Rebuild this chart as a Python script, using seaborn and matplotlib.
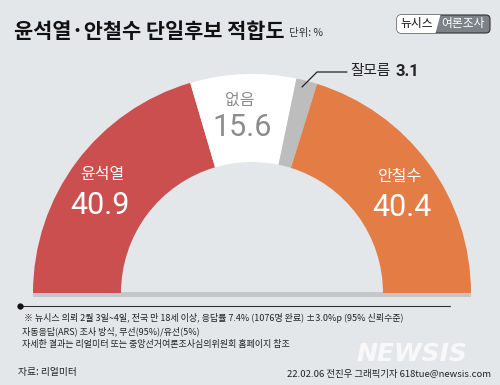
import matplotlib
matplotlib.use("Agg")
import matplotlib.pyplot as plt
import seaborn as sns
from matplotlib.patches import FancyBboxPatch, Polygon, Rectangle

# ---- data ----
categories = ["윤석열", "없음", "잘모름", "안철수"]
values = [40.9, 15.6, 3.1, 40.4]
value_labels = ["40.9", "15.6", "3.1", "40.4"]
title = "윤석열·안철수 단일후보 적합도"
unit = "단위: %"
notes = [
    "※ 뉴시스 의뢰 2월 3일~4일, 전국 만 18세 이상, 응답률 7.4% (1076명 완료) ±3.0%p (95% 신뢰수준)",
    "자동응답(ARS) 조사 방식, 무선(95%)/유선(5%)",
    "자세한 결과는 리얼미터 또는 중앙선거여론조사심의위원회 홈페이지 참조",
]
source = "자료: 리얼미터"
credit = "22.02.06 전진우 그래픽기자 618tue@newsis.com"

sns.set_theme(style="white")
plt.rcParams["font.family"] = ["Noto Sans CJK KR", "DejaVu Sans"]

bg = "#e4e7ea"
colors = sns.color_palette(["#cc4f4f", "#ffffff", "#bdbdbd", "#e37d45"])

fig = plt.figure(figsize=(5, 3.85), dpi=100, facecolor=bg)
ax = fig.add_axes([0, 0, 1, 1])
ax.set_facecolor(bg)

cx, cy, R, W = 252, 293, 219, 88
ax.add_patch(Rectangle((cx - R, cy - 1), 2 * R, 5, facecolor="#c4c6c9", edgecolor="none", zorder=0))
ax.pie(values + [sum(values)], startangle=180, counterclock=True, radius=R,
       center=(cx, cy), colors=list(colors) + ["none"],
       wedgeprops=dict(width=W, edgecolor="none", linewidth=0))
ax.set_xlim(0, 500)
ax.set_ylim(385, 0)
ax.set_aspect("equal", adjustable="box")
ax.axis("off")

num_font = ["Roboto", "DejaVu Sans"]
# labels
ax.text(102, 175, categories[0], color="white", fontsize=11.5, ha="center", va="center")
ax.text(100, 205, value_labels[0], color="white", fontsize=22, ha="center", va="center", family=num_font)
ax.text(240, 100, categories[1], color="#8c8c8c", fontsize=11.5, ha="center", va="center")
ax.text(242, 128, value_labels[1], color="#8c8c8c", fontsize=22, ha="center", va="center", family=num_font)
ax.text(400, 176, categories[3], color="white", fontsize=11.5, ha="center", va="center")
ax.text(402, 208, value_labels[3], color="white", fontsize=22, ha="center", va="center", family=num_font)

# 잘모름 leader
ax.plot([302, 317, 347], [87, 72, 72], color="#222222", lw=0.9)
t = ax.text(350, 71, categories[2], color="#222222", fontsize=10.5, ha="left", va="center")
fig.canvas.draw()
bb = t.get_window_extent(renderer=fig.canvas.get_renderer())
ax.text(bb.x1 + 5, 71, value_labels[2], color="#222222", fontsize=12, ha="left", va="center",
        weight="bold", family=num_font)

# title
ax.text(14, 31, title, fontsize=15, weight="bold", color="#111111", ha="left", va="center")
ax.text(289, 33, unit, fontsize=7.5, color="#333333", ha="left", va="center")

# logo
box = FancyBboxPatch((397, 15), 93, 18, boxstyle="round,pad=0,rounding_size=4",
                     facecolor="#7d8288", edgecolor="#333333", lw=0.8)
ax.add_patch(box)
wp = Polygon([(395, 13), (441, 13), (435, 35), (395, 35)], closed=True, facecolor="white", edgecolor="none")
ax.add_patch(wp)
wp.set_clip_path(box)
ax.text(417, 24, "뉴시스", fontsize=8.5, color="#111111", ha="center", va="center")
ax.text(463, 24, "여론조사", fontsize=8.5, color="white", ha="center", va="center")

# footer
ax.plot([20, 450], [306, 306], color="#333333", lw=0.8)
ax.plot([20], [306], marker="o", ms=3.5, color="#111111")
for i, line in enumerate(notes):
    ax.text(22 if i else 24, 318 + i * 13.5, line, fontsize=6.5, color="#222222", ha="left", va="center")
ax.text(356, 354, "NEWSIS", fontsize=18, weight="bold", style="italic", color="white",
        alpha=0.75, ha="left", va="center", family=["DejaVu Sans"])
ax.text(18, 372, source, fontsize=7, color="#222222", ha="left", va="center")
ax.text(491, 374, credit, fontsize=6.8, color="#222222", ha="right", va="center")

fig.savefig("out.png", dpi=100, facecolor=bg)
